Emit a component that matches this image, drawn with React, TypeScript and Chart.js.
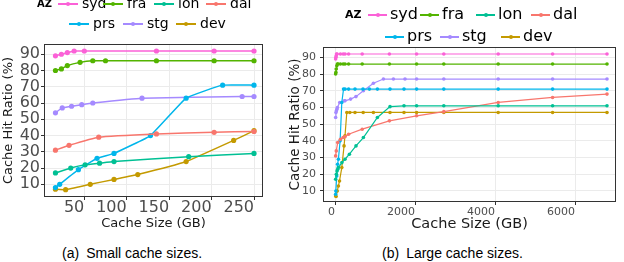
import React, { useEffect, useRef } from "react";
import { Chart, registerables } from "chart.js";

Chart.register(...registerables);

const FONT = "'DejaVu Sans', sans-serif";

const seriesNames = ["syd", "fra", "lon", "dal", "prs", "stg", "dev"];
const seriesColors = ["#FB61D7", "#53B400", "#00C094", "#F8766D", "#00B6EB", "#A58AFF", "#C49A00"];

// (a) small cache sizes (GB) and hit ratios (%)
const sydSmallX = [16, 23, 30, 38, 50, 135, 203, 250];
const sydSmallY = [89, 90, 91, 92, 92, 92, 92, 92];
const fraSmallX = [16, 23, 30, 45, 60, 75, 135, 203, 250];
const fraSmallY = [80, 81, 83, 85, 86, 86, 86, 86, 86];
const lonSmallX = [16, 34, 51, 68, 85, 173, 250];
const lonSmallY = [17, 20, 22, 23, 24, 27, 29];
const dalSmallX = [16, 32, 67, 135, 203, 250];
const dalSmallY = [31, 34, 39, 41, 42, 42.5];
const prsSmallX = [16, 21, 43, 65, 85, 128, 170, 213, 250];
const prsSmallY = [8, 10, 19, 26, 29, 40, 63, 71, 71];
const stgSmallX = [16, 24, 35, 47, 60, 118, 236, 250];
const stgSmallY = [54, 57, 58, 59, 60, 63, 64, 64];
const devSmallX = [16, 28, 57, 85, 113, 170, 226, 250];
const devSmallY = [7, 6.7, 10, 13, 16, 24, 37, 43];

// (b) large cache sizes (GB) and hit ratios (%)
const sydLargeX = [16, 23, 30, 38, 50, 135, 203, 250, 340, 680, 1360, 2040, 2720, 4080, 5440, 6800];
const sydLargeY = [89, 90, 91, 92, 92, 92, 92, 92, 92, 92, 92, 92, 92, 92, 92, 92];
const fraLargeX = [16, 23, 30, 45, 60, 75, 135, 203, 250, 340, 680, 1360, 2040, 2720, 4080, 5440, 6800];
const fraLargeY = [80, 81, 83, 85, 86, 86, 86, 86, 86, 86, 86, 86, 86, 86, 86, 86, 86];
const lonLargeX = [16, 34, 51, 68, 85, 173, 250, 360, 525, 710, 1060, 1375, 1725, 2040, 2720, 4080, 5440, 6800];
const lonLargeY = [17, 20, 22, 23, 24, 27, 29, 32, 37, 42, 54, 60.5, 61, 61, 61, 61, 61, 61];
const dalLargeX = [16, 32, 67, 135, 203, 250, 340, 680, 1360, 2040, 2720, 4080, 5440, 6800];
const dalLargeY = [31, 34, 39, 41, 42, 42.5, 44, 47, 52, 55, 57.5, 63, 66, 68];
const prsLargeX = [16, 21, 43, 65, 85, 128, 170, 213, 250, 340, 500, 700, 860, 1060, 1375, 1725, 2040, 2720, 4080, 5440, 6800];
const prsLargeY = [8, 10, 19, 26, 29, 40, 63, 71, 71, 71, 71, 71, 71, 71, 71, 71, 71, 71, 71, 71, 71];
const stgLargeX = [16, 24, 35, 47, 60, 118, 236, 250, 390, 525, 710, 960, 1210, 1460, 1750, 2040, 2720, 4080, 5440, 6800];
const stgLargeY = [54, 57, 58, 59, 60, 63, 64, 64, 65, 66.5, 70, 74.5, 77, 77, 77, 77, 77, 77, 77, 77];
const devLargeX = [16, 28, 57, 85, 113, 170, 226, 250, 295, 370, 500, 705, 960, 1375, 1725, 2040, 2720, 4080, 5440, 6800];
const devLargeY = [7, 6.7, 10, 13, 16, 24, 37, 43, 57, 57, 57, 57, 57, 57, 57, 57, 57, 57, 57, 57];

const smallXs = [sydSmallX, fraSmallX, lonSmallX, dalSmallX, prsSmallX, stgSmallX, devSmallX];
const smallYs = [sydSmallY, fraSmallY, lonSmallY, dalSmallY, prsSmallY, stgSmallY, devSmallY];
const largeXs = [sydLargeX, fraLargeX, lonLargeX, dalLargeX, prsLargeX, stgLargeX, devLargeX];
const largeYs = [sydLargeY, fraLargeY, lonLargeY, dalLargeY, prsLargeY, stgLargeY, devLargeY];

const smallXTicks = [50, 100, 150, 200, 250];
const largeXTicks = [0, 2000, 4000, 6000];
const ratioTicks = [10, 20, 30, 40, 50, 60, 70, 80, 90];

const xTitleText = "Cache Size (GB)";
const yTitleText = "Cache Hit Ratio (%)";

const panelBorder = {
  id: "panelBorder",
  afterDatasetsDraw(chart: any) {
    const { ctx, chartArea } = chart;
    const { left, top, right, bottom } = chartArea;
    ctx.save();
    ctx.strokeStyle = "#333333";
    ctx.lineWidth = 1;
    ctx.strokeRect(Math.round(left) + 0.5, Math.round(top) + 0.5, Math.round(right - left) - 1, Math.round(bottom - top) - 1);
    ctx.restore();
  },
};

interface PanelSpec {
  width: number;
  height: number;
  xs: number[][];
  ys: number[][];
  xMin: number;
  xMax: number;
  yMin: number;
  yMax: number;
  xTicks: number[];
  yTicks: number[];
  padTop: number;
  padRight: number;
  yAxisWidth: number;
  xAxisHeight: number;
  xTickFont: number;
  yTickFont: number;
  xTickPad: number;
  yTickPad: number;
  xTitleFont: number;
  yTitleFont: number;
  xTitlePadBottom: number;
  yTitlePadTop: number;
  pointRadius: number;
  lineWidth: number;
  tension: number;
}

function buildConfig(s: PanelSpec): any {
  const datasets = seriesNames.map((name, i) => ({
    label: name,
    data: s.xs[i].map((x, j) => ({ x, y: s.ys[i][j] })),
    borderColor: seriesColors[i],
    backgroundColor: seriesColors[i],
    pointBackgroundColor: seriesColors[i],
    pointBorderWidth: 0,
    pointRadius: s.pointRadius,
    borderWidth: s.lineWidth,
    fill: false,
    tension: s.tension,
  }));
  const grid = {
    color: "#EBEBEB",
    lineWidth: 1,
    drawTicks: true,
    tickLength: 3,
    tickColor: "#333333",
    tickWidth: 1,
  };
  return {
    type: "line",
    data: { datasets },
    options: {
      animation: false,
      responsive: false,
      maintainAspectRatio: false,
      devicePixelRatio: 1,
      layout: { padding: { top: s.padTop, right: s.padRight, left: 0, bottom: 0 } },
      plugins: { legend: { display: false }, tooltip: { enabled: false } },
      scales: {
        x: {
          type: "linear",
          min: s.xMin,
          max: s.xMax,
          afterBuildTicks: (ax: any) => {
            ax.ticks = s.xTicks.map((v) => ({ value: v }));
          },
          afterFit: (sc: any) => {
            sc.height = s.xAxisHeight;
          },
          grid,
          border: { display: false },
          ticks: {
            align: "end",
            autoSkip: false,
            maxRotation: 0,
            minRotation: 0,
            padding: s.xTickPad,
            color: "#4D4D4D",
            font: { family: FONT, size: s.xTickFont, lineHeight: 1 },
            callback: (v: any) => String(v),
          },
          title: {
            display: true,
            text: xTitleText,
            color: "#1a1a1a",
            font: { family: FONT, size: s.xTitleFont, lineHeight: 1.2 },
            padding: { top: 0, bottom: s.xTitlePadBottom },
          },
        },
        y: {
          type: "linear",
          min: s.yMin,
          max: s.yMax,
          afterBuildTicks: (ax: any) => {
            ax.ticks = s.yTicks.map((v) => ({ value: v }));
          },
          afterFit: (sc: any) => {
            sc.width = s.yAxisWidth;
          },
          grid,
          border: { display: false },
          ticks: {
            autoSkip: false,
            padding: s.yTickPad,
            color: "#4D4D4D",
            font: { family: FONT, size: s.yTickFont, lineHeight: 1.2 },
            callback: (v: any) => String(v),
          },
          title: {
            display: true,
            text: yTitleText,
            color: "#1a1a1a",
            font: { family: FONT, size: s.yTitleFont, lineHeight: 1.2 },
            padding: { top: s.yTitlePadTop, bottom: 0 },
          },
        },
      },
    },
    plugins: [panelBorder],
  };
}

const smallSpec: PanelSpec = {
  width: 285,
  height: 240,
  xs: smallXs,
  ys: smallYs,
  xMin: 2.5,
  xMax: 260.6,
  yMin: 2.2,
  yMax: 96.3,
  xTicks: smallXTicks,
  yTicks: ratioTicks,
  padTop: 44,
  padRight: 22,
  yAxisWidth: 44,
  xAxisHeight: 43,
  xTickFont: 16,
  yTickFont: 16,
  xTickPad: 0,
  yTickPad: 1,
  xTitleFont: 13,
  yTitleFont: 13,
  xTitlePadBottom: 8.2,
  yTitlePadTop: 1.2,
  pointRadius: 2.6,
  lineWidth: 1.5,
  tension: 0.1,
};

const largeSpec: PanelSpec = {
  width: 339,
  height: 240,
  xs: largeXs,
  ys: largeYs,
  xMin: -300,
  xMax: 7025,
  yMin: 3.4,
  yMax: 96.2,
  xTicks: largeXTicks,
  yTicks: ratioTicks,
  padTop: 47,
  padRight: 8,
  yAxisWidth: 38,
  xAxisHeight: 38,
  xTickFont: 11,
  yTickFont: 11,
  xTickPad: 2,
  yTickPad: 4,
  xTitleFont: 14.5,
  yTitleFont: 13.5,
  xTitlePadBottom: 7.3,
  yTitlePadTop: 1.9,
  pointRadius: 1.8,
  lineWidth: 1.2,
  tension: 0,
};

function Panel({ spec, left, top }: { spec: PanelSpec; left: number; top: number }) {
  const ref = useRef<HTMLCanvasElement | null>(null);
  useEffect(() => {
    if (!ref.current) return;
    const chart = new Chart(ref.current, buildConfig(spec));
    return () => chart.destroy();
  }, [spec]);
  return (
    <canvas
      ref={ref}
      width={spec.width}
      height={spec.height}
      style={{ position: "absolute", left, top, width: spec.width, height: spec.height }}
    />
  );
}

interface LegendLayout {
  azX: number;
  azSize: number;
  fontSize: number;
  rowY: number[];
  textX: number[];
  rowOf: number[];
  swatchGap: number;
  swatchW: number;
  dot: number;
  line: number;
}

function Legend({ lay }: { lay: LegendLayout }) {
  const items = seriesNames.map((name, i) => {
    const y = lay.rowY[lay.rowOf[i]];
    const tx = lay.textX[i];
    const sx = tx - lay.swatchGap;
    const lh = lay.fontSize * 1.2;
    return (
      <React.Fragment key={name}>
        <div
          style={{
            position: "absolute",
            left: sx,
            top: y - lay.line / 2,
            width: lay.swatchW,
            height: lay.line,
            background: seriesColors[i],
          }}
        />
        <div
          style={{
            position: "absolute",
            left: sx + lay.swatchW / 2 - lay.dot / 2,
            top: y - lay.dot / 2,
            width: lay.dot,
            height: lay.dot,
            borderRadius: "50%",
            background: seriesColors[i],
          }}
        />
        <div
          style={{
            position: "absolute",
            left: tx,
            top: y - lh / 2 - 0.073 * lay.fontSize,
            height: lh,
            lineHeight: `${lh}px`,
            fontSize: lay.fontSize,
            fontFamily: FONT,
            color: "#000",
            whiteSpace: "nowrap",
          }}
        >
          {name}
        </div>
      </React.Fragment>
    );
  });
  const azLh = lay.azSize * 1.2;
  return (
    <>
      <div
        style={{
          position: "absolute",
          left: lay.azX,
          top: lay.rowY[0] - azLh / 2,
          height: azLh,
          lineHeight: `${azLh}px`,
          fontSize: lay.azSize,
          fontWeight: "bold",
          fontFamily: FONT,
          color: "#000",
        }}
      >
        AZ
      </div>
      {items}
    </>
  );
}

const smallLegend: LegendLayout = {
  azX: 37,
  azSize: 10,
  fontSize: 14,
  rowY: [4, 24],
  textX: [82, 127, 178, 230, 93, 147, 200],
  rowOf: [0, 0, 0, 0, 1, 1, 1],
  swatchGap: 24,
  swatchW: 20,
  dot: 4.5,
  line: 1.5,
};

const largeLegend: LegendLayout = {
  azX: 345,
  azSize: 11,
  fontSize: 16,
  rowY: [15, 37],
  textX: [390, 442, 498, 553, 407, 462, 523],
  rowOf: [0, 0, 0, 0, 1, 1, 1],
  swatchGap: 22,
  swatchW: 19,
  dot: 4,
  line: 1.3,
};

function Caption({ tag, text, left }: { tag: string; text: string; left: number }) {
  return (
    <div
      style={{
        position: "absolute",
        left,
        top: 245,
        height: 16,
        lineHeight: "16px",
        fontSize: 14,
        fontFamily: "'Liberation Sans', Arial, sans-serif",
        color: "#000",
        whiteSpace: "nowrap",
      }}
    >
      <span>{tag}</span>
      <span style={{ marginLeft: 7 }}>{text}</span>
    </div>
  );
}

export default function App() {
  return (
    <div
      style={{
        position: "absolute",
        left: 0,
        top: 0,
        width: 624,
        height: 262,
        background: "#fff",
        overflow: "hidden",
      }}
    >
      <Panel spec={smallSpec} left={0} top={0} />
      <Panel spec={largeSpec} left={285} top={0} />
      <Legend lay={smallLegend} />
      <Legend lay={largeLegend} />
      <Caption tag="(a)" text="Small cache sizes." left={62} />
      <Caption tag="(b)" text="Large cache sizes." left={382} />
    </div>
  );
}
